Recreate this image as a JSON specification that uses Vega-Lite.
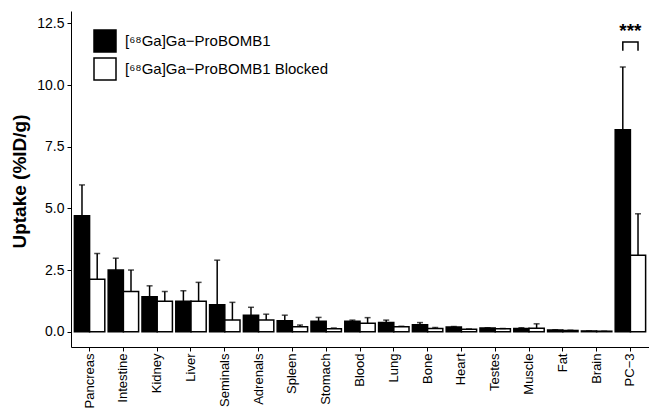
{
  "$schema": "https://vega.github.io/schema/vega-lite/v6.json",
  "width": 578,
  "height": 336,
  "autosize": {"type": "none"},
  "padding": {"left": 71, "top": 11, "right": 0, "bottom": 62},
  "background": "white",
  "config": {
    "view": {"stroke": null},
    "font": "Liberation Sans",
    "axis": {"domainColor": "black", "tickColor": "black", "labelColor": "black", "titleColor": "black", "grid": false, "tickSize": 4, "domainWidth": 1, "tickWidth": 1}
  },
  "datasets": {
    "main": [
      {"organ": "Pancreas", "group": "[⁶⁸Ga]Ga−ProBOMB1", "mean": 4.70, "upper": 5.95},
      {"organ": "Pancreas", "group": "[⁶⁸Ga]Ga−ProBOMB1 Blocked", "mean": 2.13, "upper": 3.17},
      {"organ": "Intestine", "group": "[⁶⁸Ga]Ga−ProBOMB1", "mean": 2.50, "upper": 2.98},
      {"organ": "Intestine", "group": "[⁶⁸Ga]Ga−ProBOMB1 Blocked", "mean": 1.63, "upper": 2.50},
      {"organ": "Kidney", "group": "[⁶⁸Ga]Ga−ProBOMB1", "mean": 1.42, "upper": 1.86},
      {"organ": "Kidney", "group": "[⁶⁸Ga]Ga−ProBOMB1 Blocked", "mean": 1.23, "upper": 1.63},
      {"organ": "Liver", "group": "[⁶⁸Ga]Ga−ProBOMB1", "mean": 1.23, "upper": 1.66},
      {"organ": "Liver", "group": "[⁶⁸Ga]Ga−ProBOMB1 Blocked", "mean": 1.23, "upper": 2.00},
      {"organ": "Seminals", "group": "[⁶⁸Ga]Ga−ProBOMB1", "mean": 1.09, "upper": 2.90},
      {"organ": "Seminals", "group": "[⁶⁸Ga]Ga−ProBOMB1 Blocked", "mean": 0.47, "upper": 1.19},
      {"organ": "Adrenals", "group": "[⁶⁸Ga]Ga−ProBOMB1", "mean": 0.67, "upper": 0.99},
      {"organ": "Adrenals", "group": "[⁶⁸Ga]Ga−ProBOMB1 Blocked", "mean": 0.47, "upper": 0.71},
      {"organ": "Spleen", "group": "[⁶⁸Ga]Ga−ProBOMB1", "mean": 0.44, "upper": 0.67},
      {"organ": "Spleen", "group": "[⁶⁸Ga]Ga−ProBOMB1 Blocked", "mean": 0.20, "upper": 0.27},
      {"organ": "Stomach", "group": "[⁶⁸Ga]Ga−ProBOMB1", "mean": 0.42, "upper": 0.58},
      {"organ": "Stomach", "group": "[⁶⁸Ga]Ga−ProBOMB1 Blocked", "mean": 0.12, "upper": 0.15},
      {"organ": "Blood", "group": "[⁶⁸Ga]Ga−ProBOMB1", "mean": 0.42, "upper": 0.47},
      {"organ": "Blood", "group": "[⁶⁸Ga]Ga−ProBOMB1 Blocked", "mean": 0.34, "upper": 0.57},
      {"organ": "Lung", "group": "[⁶⁸Ga]Ga−ProBOMB1", "mean": 0.37, "upper": 0.47},
      {"organ": "Lung", "group": "[⁶⁸Ga]Ga−ProBOMB1 Blocked", "mean": 0.20, "upper": 0.22},
      {"organ": "Bone", "group": "[⁶⁸Ga]Ga−ProBOMB1", "mean": 0.28, "upper": 0.37},
      {"organ": "Bone", "group": "[⁶⁸Ga]Ga−ProBOMB1 Blocked", "mean": 0.13, "upper": 0.17},
      {"organ": "Heart", "group": "[⁶⁸Ga]Ga−ProBOMB1", "mean": 0.19, "upper": 0.21},
      {"organ": "Heart", "group": "[⁶⁸Ga]Ga−ProBOMB1 Blocked", "mean": 0.10, "upper": 0.11},
      {"organ": "Testes", "group": "[⁶⁸Ga]Ga−ProBOMB1", "mean": 0.15, "upper": 0.16},
      {"organ": "Testes", "group": "[⁶⁸Ga]Ga−ProBOMB1 Blocked", "mean": 0.12, "upper": 0.13},
      {"organ": "Muscle", "group": "[⁶⁸Ga]Ga−ProBOMB1", "mean": 0.13, "upper": 0.16},
      {"organ": "Muscle", "group": "[⁶⁸Ga]Ga−ProBOMB1 Blocked", "mean": 0.14, "upper": 0.32},
      {"organ": "Fat", "group": "[⁶⁸Ga]Ga−ProBOMB1", "mean": 0.07, "upper": 0.08},
      {"organ": "Fat", "group": "[⁶⁸Ga]Ga−ProBOMB1 Blocked", "mean": 0.05, "upper": 0.06},
      {"organ": "Brain", "group": "[⁶⁸Ga]Ga−ProBOMB1", "mean": 0.03, "upper": 0.03},
      {"organ": "Brain", "group": "[⁶⁸Ga]Ga−ProBOMB1 Blocked", "mean": 0.02, "upper": 0.02},
      {"organ": "PC−3", "group": "[⁶⁸Ga]Ga−ProBOMB1", "mean": 8.19, "upper": 10.73},
      {"organ": "PC−3", "group": "[⁶⁸Ga]Ga−ProBOMB1 Blocked", "mean": 3.10, "upper": 4.78}
    ],
    "bracket": [
      {"organ": "PC−3", "group": "[⁶⁸Ga]Ga−ProBOMB1", "y": 11.39, "ord": 1},
      {"organ": "PC−3", "group": "[⁶⁸Ga]Ga−ProBOMB1", "y": 11.74, "ord": 2},
      {"organ": "PC−3", "group": "[⁶⁸Ga]Ga−ProBOMB1 Blocked", "y": 11.74, "ord": 3},
      {"organ": "PC−3", "group": "[⁶⁸Ga]Ga−ProBOMB1 Blocked", "y": 11.39, "ord": 4}
    ],
    "stars": [
      {"organ": "PC−3", "y": 11.95, "label": "***"}
    ]
  },
  "encoding": {
    "x": {
      "field": "organ", "type": "nominal",
      "scale": {"domain": ["Pancreas", "Intestine", "Kidney", "Liver", "Seminals", "Adrenals", "Spleen", "Stomach", "Blood", "Lung", "Bone", "Heart", "Testes", "Muscle", "Fat", "Brain", "PC−3"], "paddingInner": 0.1, "paddingOuter": 0.1},
      "axis": {"title": null, "labelAngle": -90, "labelFontSize": 13, "labelPadding": 2, "labelAlign": "right", "labelBaseline": "middle"}
    }
  },
  "layer": [
    {
      "data": {"name": "main"},
      "mark": {"type": "bar", "stroke": "black", "strokeWidth": 1.5},
      "encoding": {
        "xOffset": {"field": "group", "type": "nominal", "scale": {"domain": ["[⁶⁸Ga]Ga−ProBOMB1", "[⁶⁸Ga]Ga−ProBOMB1 Blocked"], "paddingInner": 0, "paddingOuter": 0}},
        "y": {
          "field": "mean", "type": "quantitative",
          "scale": {"domain": [-0.62, 13.0], "nice": false, "zero": false},
          "axis": {"title": "Uptake (%ID/g)", "values": [0, 2.5, 5, 7.5, 10, 12.5], "format": ".1f", "labelFontSize": 14, "labelPadding": 3, "titleFontSize": 19, "titleFontWeight": "bold", "titlePadding": 7, "titleY": 170}
        },
        "y2": {"datum": 0},
        "fill": {
          "field": "group", "type": "nominal",
          "scale": {"domain": ["[⁶⁸Ga]Ga−ProBOMB1", "[⁶⁸Ga]Ga−ProBOMB1 Blocked"], "range": ["black", "white"]},
          "legend": {"title": null, "orient": "none", "legendX": 22, "legendY": 18, "padding": 0, "symbolType": "square", "symbolSize": 484, "symbolStrokeColor": "black", "symbolStrokeWidth": 1.5, "rowPadding": 0, "labelFontSize": 15, "labelColor": "black", "labelOffset": 8, "labelLimit": 400}
        }
      }
    },
    {
      "data": {"name": "main"},
      "mark": {"type": "rule", "strokeWidth": 1.5, "color": "black"},
      "encoding": {
        "xOffset": {"field": "group", "type": "nominal", "scale": {"domain": ["[⁶⁸Ga]Ga−ProBOMB1", "[⁶⁸Ga]Ga−ProBOMB1 Blocked"], "paddingInner": 0, "paddingOuter": 0}},
        "y": {"field": "mean", "type": "quantitative"},
        "y2": {"field": "upper"}
      }
    },
    {
      "data": {"name": "main"},
      "mark": {"type": "tick", "thickness": 1.5, "size": 6, "color": "black", "orient": "horizontal"},
      "encoding": {
        "xOffset": {"field": "group", "type": "nominal", "scale": {"domain": ["[⁶⁸Ga]Ga−ProBOMB1", "[⁶⁸Ga]Ga−ProBOMB1 Blocked"], "paddingInner": 0, "paddingOuter": 0}},
        "y": {"field": "upper", "type": "quantitative"}
      }
    },
    {
      "data": {"name": "bracket"},
      "mark": {"type": "line", "strokeWidth": 1.5, "color": "black"},
      "encoding": {
        "xOffset": {"field": "group", "type": "nominal", "scale": {"domain": ["[⁶⁸Ga]Ga−ProBOMB1", "[⁶⁸Ga]Ga−ProBOMB1 Blocked"], "paddingInner": 0, "paddingOuter": 0}},
        "y": {"field": "y", "type": "quantitative"},
        "order": {"field": "ord", "type": "quantitative"}
      }
    },
    {
      "data": {"name": "stars"},
      "mark": {"type": "text", "fontSize": 19, "fontWeight": "bold", "color": "black", "baseline": "alphabetic"},
      "encoding": {
        "y": {"field": "y", "type": "quantitative"},
        "text": {"field": "label"}
      }
    }
  ]
}
